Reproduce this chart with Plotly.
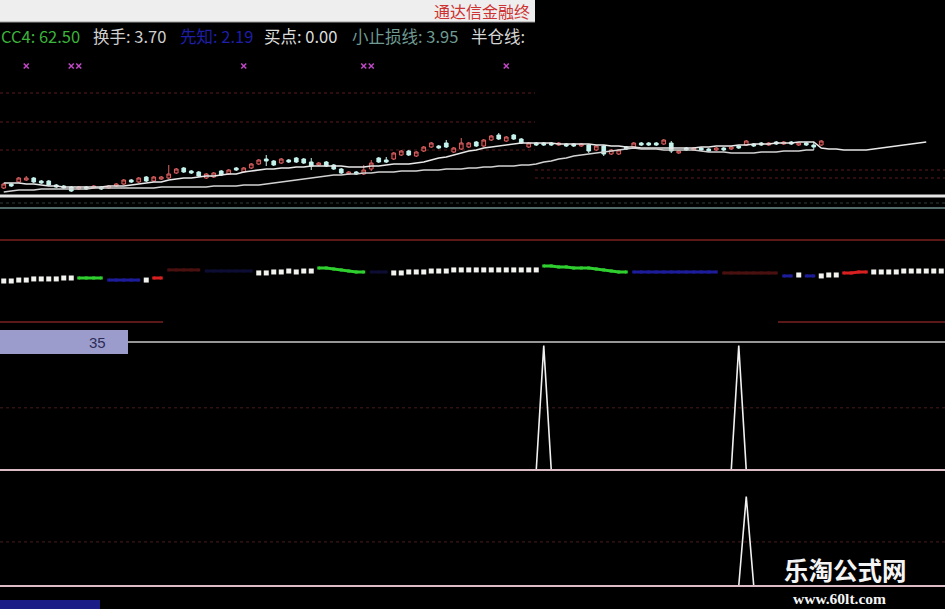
import plotly.graph_objects as go

W, H = 945, 609

# ---------------- data ----------------
bars = list(range(126))

opens = [3.59, 3.63, 3.65, 3.67, 3.69, 3.66, 3.66, 3.62, 3.61, 3.60,
         3.58, 3.60, 3.59, 3.60, 3.59, 3.61, 3.63, 3.67, 3.65, 3.70,
         3.66, 3.68, 3.69, 3.74, 3.79, 3.76, 3.75, 3.69, 3.70, 3.76,
         3.73, 3.79, 3.75, 3.79, 3.83, 3.88, 3.86, 3.84, 3.87, 3.89,
         3.88, 3.85, 3.82, 3.85, 3.82, 3.78, 3.73, 3.75, 3.73, 3.78,
         3.89, 3.87, 3.88, 3.92, 3.96, 3.91, 3.96, 4.00, 4.01, 4.04,
         3.95, 3.98, 4.00, 4.05, 4.01, 4.07, 4.12, 4.06, 4.12, 4.08,
         4.00, 4.04, 4.04, 4.04, 4.02, 4.03, 4.03, 4.01, 4.02, 3.97,
         4.01, 3.93, 3.93, 4.00, 4.00, 4.04, 4.04, 4.04, 4.03, 4.04,
         3.94, 3.99, 3.97, 3.99, 3.98, 3.97, 3.99, 3.98, 4.01, 4.02,
         4.03, 4.04, 4.02, 4.05, 4.03, 4.05, 4.02, 4.04, 4.02, 4.02]
closes = [3.63, 3.61, 3.69, 3.69, 3.65, 3.64, 3.62, 3.60, 3.59, 3.56,
          3.60, 3.58, 3.61, 3.58, 3.61, 3.63, 3.67, 3.65, 3.69, 3.66,
          3.70, 3.70, 3.73, 3.78, 3.75, 3.74, 3.71, 3.73, 3.74, 3.72,
          3.77, 3.77, 3.79, 3.83, 3.87, 3.86, 3.82, 3.88, 3.85, 3.85,
          3.84, 3.81, 3.84, 3.81, 3.78, 3.74, 3.75, 3.73, 3.77, 3.84,
          3.85, 3.85, 3.94, 3.96, 3.92, 3.95, 4.00, 4.04, 3.99, 4.00,
          3.99, 4.04, 4.04, 4.01, 4.07, 4.11, 4.08, 4.10, 4.08, 4.04,
          4.04, 4.02, 4.02, 4.02, 4.04, 4.01, 4.01, 4.03, 3.96, 4.01,
          3.93, 3.97, 3.97, 3.98, 4.04, 4.02, 4.02, 4.02, 4.07, 3.96,
          3.96, 3.97, 3.99, 3.97, 3.96, 3.99, 3.97, 4.00, 3.99, 4.06,
          4.01, 4.02, 4.04, 4.03, 4.05, 4.03, 4.04, 4.02, 4.00, 4.06]
highs = [3.64, 3.64, 3.70, 3.71, 3.70, 3.67, 3.67, 3.63, 3.62, 3.61,
         3.61, 3.61, 3.62, 3.61, 3.62, 3.64, 3.68, 3.68, 3.70, 3.71,
         3.71, 3.71, 3.82, 3.79, 3.80, 3.77, 3.76, 3.74, 3.75, 3.77,
         3.78, 3.80, 3.80, 3.84, 3.88, 3.92, 3.87, 3.89, 3.88, 3.90,
         3.89, 3.89, 3.85, 3.86, 3.83, 3.79, 3.76, 3.76, 3.82, 3.87,
         3.90, 3.90, 3.95, 3.97, 3.97, 3.96, 4.01, 4.05, 4.02, 4.07,
         4.00, 4.09, 4.05, 4.06, 4.08, 4.12, 4.14, 4.11, 4.13, 4.09,
         4.05, 4.05, 4.05, 4.05, 4.05, 4.04, 4.04, 4.04, 4.03, 4.02,
         4.02, 3.98, 3.98, 4.01, 4.05, 4.05, 4.05, 4.05, 4.08, 4.06,
         3.97, 4.00, 4.00, 4.00, 3.99, 4.00, 4.00, 4.01, 4.02, 4.07,
         4.04, 4.05, 4.05, 4.06, 4.06, 4.06, 4.05, 4.05, 4.05, 4.07]
lows = [3.58, 3.60, 3.64, 3.66, 3.64, 3.63, 3.61, 3.59, 3.58, 3.55,
        3.57, 3.57, 3.58, 3.57, 3.58, 3.60, 3.62, 3.64, 3.64, 3.65,
        3.65, 3.67, 3.68, 3.73, 3.74, 3.73, 3.70, 3.68, 3.69, 3.71,
        3.72, 3.76, 3.74, 3.78, 3.82, 3.81, 3.81, 3.83, 3.84, 3.84,
        3.83, 3.77, 3.81, 3.80, 3.77, 3.73, 3.72, 3.72, 3.72, 3.76,
        3.84, 3.84, 3.87, 3.91, 3.91, 3.90, 3.95, 3.99, 3.98, 3.99,
        3.94, 3.97, 3.99, 4.00, 4.00, 4.06, 4.07, 4.05, 4.07, 4.03,
        3.99, 4.01, 4.01, 4.01, 4.01, 4.00, 4.00, 4.00, 3.94, 3.96,
        3.91, 3.92, 3.92, 3.97, 3.99, 4.01, 4.01, 4.01, 4.02, 3.94,
        3.93, 3.96, 3.96, 3.96, 3.95, 3.96, 3.96, 3.97, 3.98, 4.01,
        4.00, 4.01, 4.01, 4.02, 4.02, 4.02, 4.01, 4.01, 3.97, 4.01]

ma_fast = [3.64, 3.64, 3.64, 3.63, 3.63, 3.62, 3.61, 3.61, 3.60, 3.60,
           3.60, 3.60, 3.60, 3.60, 3.61, 3.61, 3.61, 3.62, 3.63, 3.64,
           3.65, 3.65, 3.67, 3.68, 3.69, 3.69, 3.70, 3.71, 3.71, 3.72,
           3.73, 3.73, 3.75, 3.76, 3.77, 3.78, 3.78, 3.79, 3.79, 3.80,
           3.80, 3.81, 3.81, 3.81, 3.81, 3.81, 3.80, 3.80, 3.80, 3.81,
           3.81, 3.82, 3.83, 3.83, 3.83, 3.84, 3.85, 3.87, 3.89, 3.90,
           3.92, 3.94, 3.96, 3.97, 3.99, 4.00, 4.01, 4.02, 4.03, 4.04,
           4.04, 4.04, 4.04, 4.04, 4.03, 4.03, 4.03, 4.03, 4.03, 4.02,
           4.02, 4.01, 4.01, 4.00, 4.00, 3.99, 3.99, 3.99, 3.99, 3.99,
           3.99, 3.99, 3.99, 4.00, 4.00, 4.01, 4.01, 4.01, 4.02, 4.02,
           4.03, 4.03, 4.03, 4.04, 4.04, 4.04, 4.05, 4.05, 4.05, 3.99,
           3.98, 3.98, 3.97, 3.97, 3.97, 3.97, 3.98, 3.99, 4.00, 4.01,
           4.02, 4.03, 4.04, 4.05]
ma_slow = [3.55, 3.56, 3.57, 3.57, 3.57, 3.58, 3.58, 3.58, 3.58, 3.58,
           3.58, 3.58, 3.59, 3.59, 3.59, 3.59, 3.59, 3.59, 3.59, 3.59,
           3.59, 3.60, 3.60, 3.60, 3.60, 3.60, 3.60, 3.60, 3.61, 3.61,
           3.61, 3.61, 3.62, 3.62, 3.62, 3.63, 3.64, 3.65, 3.66, 3.67,
           3.68, 3.69, 3.70, 3.71, 3.72, 3.72, 3.73, 3.73, 3.74, 3.74,
           3.75, 3.75, 3.75, 3.76, 3.76, 3.76, 3.77, 3.77, 3.77, 3.78,
           3.78, 3.78, 3.79, 3.79, 3.80, 3.80, 3.81, 3.81, 3.81, 3.82,
           3.82, 3.83, 3.85, 3.86, 3.88, 3.89, 3.91, 3.92, 3.93, 3.94,
           3.95, 3.96, 3.97, 3.98, 3.99, 3.98, 3.98, 3.98, 3.97, 3.97,
           3.97, 3.97, 3.97, 3.96, 3.95, 3.95, 3.95, 3.94, 3.94, 3.94,
           3.94, 3.95, 3.95, 3.95, 3.96, 3.96, 3.96, 3.97, 3.97]

signal_bars = [3, 9, 10, 32, 48, 49, 67]
signal_prices = [4.81, 4.81, 4.81, 4.81, 4.81, 4.81, 4.81]

left_levels = [4.54, 4.25, 3.97]      # dotted guide levels (left window)
right_levels = [3.77, 3.69]           # dotted guide levels (right window)

ind_vals = [50.0, 50.0, 50.7, 50.7, 51.5, 51.5, 51.5, 51.5, 52.2, 52.2,
            52.2, 52.2, 52.2, 52.2, 50.7, 50.7, 50.7, 50.7, 50.7, 50.7,
            52.2, 52.2, 58.1, 58.1, 58.1, 58.1, 58.1, 57.3, 57.3, 57.3,
            57.3, 57.3, 57.3, 57.3, 55.9, 55.9, 56.6, 56.6, 57.3, 56.6,
            57.3, 57.3, 59.5, 59.5, 58.8, 58.1, 57.3, 56.6, 56.6, 56.6,
            56.6, 56.6, 55.9, 55.9, 56.6, 56.6, 56.6, 57.3, 57.3, 57.3,
            58.1, 58.1, 58.1, 58.1, 58.1, 58.1, 58.1, 58.1, 58.1, 58.1,
            58.1, 58.1, 61.0, 61.0, 60.3, 60.3, 59.5, 59.5, 59.5, 58.8,
            58.1, 57.3, 56.6, 56.6, 56.6, 56.6, 56.6, 56.6, 56.6, 56.6,
            56.6, 56.6, 56.6, 56.6, 56.6, 56.6, 55.9, 55.9, 55.9, 55.9,
            55.9, 55.9, 55.9, 55.9, 53.7, 53.7, 54.4, 53.7, 53.7, 53.7,
            54.4, 54.4, 55.9, 55.9, 56.6, 56.6, 56.6, 56.6, 56.6, 56.6,
            57.3, 57.3, 57.3, 57.3, 57.3, 57.3]
ind_state = ("wwwwwwwwww" "ggggbbbbbw" "rrdddddkkk" "kkkkwwwwww" "wwgggggggk"
             "kkwwwwwwww" "wwwwwwwwww" "wwgggggggg" "ggggbbbbbb" "bbbbbbdddd"
             "ddddbbwbbw" "wwrrrrwwww" "wwwwww")
ind_upper, ind_lower = 80, 20

spike_a_bars = [72, 98]
spike_a_vals = [34, 34]
spike_b_bars = [99]
spike_b_vals = [27]

label_top = "35"

# ---------------- helpers ----------------
def xp(px):
    return px / W


def yp(py):
    return 1 - py / H


def bar_at(px):
    return px / 7.5 - 0.5


state_colors = {"w": "#f2f2ee", "g": "#2fcf2f", "b": "#1d1d9c",
                "r": "#d82020", "d": "#4a1010", "k": "#0d0d34"}

fig = go.Figure()

# main window
fig.add_trace(go.Candlestick(
    x=bars[:len(opens)], open=opens, high=highs, low=lows, close=closes,
    increasing=dict(line=dict(color="#e06464", width=1), fillcolor="#2a0606"),
    decreasing=dict(line=dict(color="#c4f2ec", width=1), fillcolor="#c4f2ec"),
    whiskerwidth=0, hoverinfo="skip", showlegend=False, xaxis="x", yaxis="y"))
fig.add_trace(go.Scatter(x=bars[:len(ma_fast)], y=ma_fast, mode="lines",
                         line=dict(color="#e8e8e8", width=1.6),
                         hoverinfo="skip", showlegend=False, xaxis="x", yaxis="y"))
fig.add_trace(go.Scatter(x=bars[:len(ma_slow)], y=ma_slow, mode="lines",
                         line=dict(color="#d2d2d2", width=1.6),
                         hoverinfo="skip", showlegend=False, xaxis="x", yaxis="y"))
fig.add_trace(go.Scatter(x=signal_bars, y=signal_prices, mode="markers",
                         marker=dict(symbol="x-thin", size=5,
                                     line=dict(color="#c24ac8", width=1.5)),
                         hoverinfo="skip", showlegend=False, xaxis="x", yaxis="y"))

# indicator window
for key, col in state_colors.items():
    ys = [v if s == key else None for v, s in zip(ind_vals, ind_state)]
    if key == "w":
        fig.add_trace(go.Scatter(x=bars, y=ys, mode="markers",
                                 marker=dict(symbol="square", size=5, color=col),
                                 hoverinfo="skip", showlegend=False,
                                 xaxis="x", yaxis="y2"))
    else:
        fig.add_trace(go.Scatter(x=bars, y=ys, mode="lines+markers",
                                 line=dict(color=col, width=3),
                                 marker=dict(symbol="square", size=3, color=col),
                                 hoverinfo="skip", showlegend=False,
                                 xaxis="x", yaxis="y2"))

# spike windows
def spike_xy(bs, vs):
    xs, ys = [], []
    for b, v in zip(bs, vs):
        xs += [b - 1, b, b + 1, None]
        ys += [0, v, 0, None]
    return xs, ys

sx, sy = spike_xy(spike_a_bars, spike_a_vals)
fig.add_trace(go.Scatter(x=sx, y=sy, mode="lines", line=dict(color="#f0f0f0", width=1.6),
                         hoverinfo="skip", showlegend=False, xaxis="x", yaxis="y3"))
sx, sy = spike_xy(spike_b_bars, spike_b_vals)
fig.add_trace(go.Scatter(x=sx, y=sy, mode="lines", line=dict(color="#f0f0f0", width=1.6),
                         hoverinfo="skip", showlegend=False, xaxis="x", yaxis="y4"))

shapes = []
# header bar
shapes.append(dict(type="rect", xref="paper", yref="paper", x0=0, x1=xp(535),
                   y0=yp(22), y1=1, fillcolor="#eeeeee", line=dict(width=0)))
shapes.append(dict(type="line", xref="paper", yref="paper", x0=0, x1=xp(535),
                   y0=yp(22), y1=yp(22), line=dict(color="#9a9a9a", width=1)))
# dotted guide levels
for lv in left_levels:
    shapes.append(dict(type="line", xref="x", yref="y", x0=-0.5, x1=bar_at(535),
                       y0=lv, y1=lv, layer="below",
                       line=dict(color="#5a1c1c", width=1, dash="dot")))
for lv in right_levels:
    shapes.append(dict(type="line", xref="x", yref="y", x0=bar_at(535), x1=125.5,
                       y0=lv, y1=lv, layer="below",
                       line=dict(color="#5a1c1c", width=1, dash="dot")))
# separators
shapes.append(dict(type="line", xref="paper", yref="paper", x0=0, x1=1,
                   y0=yp(196), y1=yp(196), line=dict(color="#e6e6e6", width=3)))
shapes.append(dict(type="line", xref="paper", yref="paper", x0=0, x1=1,
                   y0=yp(203), y1=yp(203), line=dict(color="#2a3a3a", width=1, dash="dot")))
shapes.append(dict(type="line", xref="paper", yref="paper", x0=0, x1=1,
                   y0=yp(208), y1=yp(208), line=dict(color="#6c8c8c", width=1.5)))
# indicator levels
shapes.append(dict(type="line", xref="x", yref="y2", x0=-0.5, x1=125.5,
                   y0=ind_upper, y1=ind_upper, line=dict(color="#7a2020", width=1.5)))
for a, b in [(-0.5, bar_at(163)), (bar_at(778), 125.5)]:
    shapes.append(dict(type="line", xref="x", yref="y2", x0=a, x1=b,
                       y0=ind_lower, y1=ind_lower, line=dict(color="#7a2020", width=1.5)))
# spike window frames
shapes.append(dict(type="line", xref="paper", yref="paper", x0=0, x1=1,
                   y0=yp(342), y1=yp(342), line=dict(color="#c8c8c8", width=1.5)))
shapes.append(dict(type="line", xref="x", yref="y3", x0=-0.5, x1=125.5,
                   y0=17, y1=17, layer="below",
                   line=dict(color="#4a1c1c", width=1, dash="dot")))
shapes.append(dict(type="line", xref="paper", yref="paper", x0=0, x1=1,
                   y0=yp(470), y1=yp(470), line=dict(color="#dcbcc4", width=2)))
shapes.append(dict(type="line", xref="x", yref="y4", x0=-0.5, x1=125.5,
                   y0=13.3, y1=13.3, layer="below",
                   line=dict(color="#4a1c1c", width=1, dash="dot")))
shapes.append(dict(type="line", xref="paper", yref="paper", x0=0, x1=1,
                   y0=yp(586), y1=yp(586), line=dict(color="#dcbcc4", width=2)))
# axis label box
shapes.append(dict(type="rect", xref="paper", yref="paper", x0=0, x1=xp(128),
                   y0=yp(354), y1=yp(330), fillcolor="#9c9ccc", line=dict(width=0)))
# bottom blue tab
shapes.append(dict(type="rect", xref="paper", yref="paper", x0=0, x1=xp(100),
                   y0=0, y1=yp(600), fillcolor="#1c1c86", line=dict(width=0)))

CJK = "Noto Sans CJK SC"
annotations = []


def ann(text, x, y, color, size, anchor="left", family=CJK):
    annotations.append(dict(text=text, x=xp(x), y=yp(y), xref="paper", yref="paper",
                            xanchor=anchor, yanchor="middle", showarrow=False,
                            borderpad=0,
                            font=dict(family=family, size=size, color=color)))


ann("通达信金融终", 433, 11, "#cc3333", 16)
ann("CC4: 62.50", 0, 36, "#3cb43c", 16.5)
ann("换手: 3.70", 92, 36, "#cfcfcf", 16.5)
ann("先知: 2.19", 179, 36, "#1e1ea6", 16.5)
ann("买点: 0.00", 263, 36, "#dcdcdc", 16.5)
ann("小止损线: 3.95", 351, 36, "#6f9a92", 16.5)
ann("半仓线:", 470, 36, "#d6d6d6", 16.5)
ann(label_top, 97, 342, "#2c2c58", 15, anchor="center", family="Liberation Sans")
ann("<b>乐淘公式网</b>", 845, 569, "#f4f4f4", 24.5, anchor="center")
ann("<b>www.60lt.com</b>", 839, 598, "#f4f4f4", 15.5, anchor="center",
    family="Liberation Serif")

fig.update_layout(
    width=W, height=H, autosize=False,
    margin=dict(l=0, r=0, t=0, b=0, pad=0),
    paper_bgcolor="#000000", plot_bgcolor="#000000",
    showlegend=False, hovermode=False,
    xaxis=dict(range=[-0.5, 125.5], domain=[0, 1], visible=False,
               rangeslider=dict(visible=False), fixedrange=True),
    yaxis=dict(domain=[yp(197), yp(45)], range=[3.50, 5.02], visible=False, fixedrange=True),
    yaxis2=dict(domain=[yp(335), yp(200)], range=[10.49, 109.27], visible=False,
                anchor="x", fixedrange=True),
    yaxis3=dict(domain=[yp(470), yp(342)], range=[0, 35], visible=False,
                anchor="x", fixedrange=True),
    yaxis4=dict(domain=[yp(586), yp(470)], range=[0, 35], visible=False,
                anchor="x", fixedrange=True),
    shapes=shapes, annotations=annotations,
)

fig.write_html("out.html", config={"displayModeBar": False},
               post_script="document.body.style.margin='0';"
                           "document.body.style.background='#000';"
                           "document.body.style.overflow='hidden';")
